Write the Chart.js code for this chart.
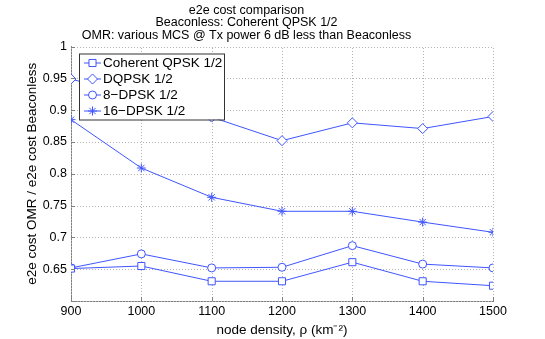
<!DOCTYPE html>
<html>
<head>
<meta charset="utf-8">
<script src="https://cdn.jsdelivr.net/npm/chart.js@4.4.0/dist/chart.umd.min.js"></script>
<style>
    html, body { margin: 0; padding: 0; background: #fff; }
    #wrap { width: 545px; height: 339px; }
</style>
</head>
<body>
<div id="wrap"><canvas id="cost-chart"></canvas></div>
<script>
const density = [900, 1000, 1100, 1200, 1300, 1400, 1500];
const coherentQpsk = [0.651, 0.655, 0.631, 0.631, 0.661, 0.631, 0.624];
const dqpsk = [0.949, 0.918, 0.889, 0.852, 0.880, 0.871, 0.890];
const dpsk8 = [0.652, 0.674, 0.652, 0.653, 0.687, 0.658, 0.652];
const dpsk16 = [0.885, 0.809, 0.763, 0.741, 0.741, 0.724, 0.708];
const seriesNames = ["Coherent QPSK 1/2", "DQPSK 1/2", "8\u2212DPSK 1/2", "16\u2212DPSK 1/2"];
const titleLines = [
    "e2e cost comparison",
    "Beaconless: Coherent QPSK 1/2",
    "OMR: various MCS @ Tx power 6 dB less than Beaconless",
];

const blue = "#3f55ff";
const font = "'Liberation Sans', Arial, Helvetica, sans-serif";

function toPoints(values) {
    return values.map(function (v, i) {
        return { x: density[i], y: v };
    });
}

function makeSet(label, values, style, radius) {
    return {
        label: label,
        data: toPoints(values),
        borderColor: blue,
        borderWidth: 1,
        backgroundColor: "#fff",
        pointStyle: style,
        pointRadius: radius,
        pointBorderWidth: 1,
        pointBackgroundColor: "#fff",
        pointBorderColor: blue,
        tension: 0,
    };
}

// dotted grid + small inward tick marks, matlab style
const matlabGrid = {
    id: "matlabGrid",
    beforeDatasetsDraw: function (chart) {
        const c = chart.ctx;
        const area = chart.chartArea;
        const xs = chart.scales.x, ys = chart.scales.y;
        c.save();
        c.strokeStyle = "#b4b4b4";
        c.lineWidth = 1;
        c.setLineDash([1, 2]);
        c.beginPath();
        xs.ticks.forEach(function (t) {
            const px = Math.round(xs.getPixelForValue(t.value)) + 0.5;
            c.moveTo(px, area.bottom);
            c.lineTo(px, area.top);
        });
        ys.ticks.forEach(function (t) {
            const py = Math.round(ys.getPixelForValue(t.value)) + 0.5;
            c.moveTo(area.left, py);
            c.lineTo(area.right, py);
        });
        c.stroke();
        c.restore();
    },
    afterDraw: function (chart) {
        const c = chart.ctx;
        const area = chart.chartArea;
        const xs = chart.scales.x, ys = chart.scales.y;
        c.save();
        c.strokeStyle = "#808080";
        c.lineWidth = 1;
        c.beginPath();
        xs.ticks.forEach(function (t) {
            const px = Math.round(xs.getPixelForValue(t.value)) + 0.5;
            c.moveTo(px, area.bottom);
            c.lineTo(px, area.bottom - 4);
        });
        ys.ticks.forEach(function (t) {
            const py = Math.round(ys.getPixelForValue(t.value)) + 0.5;
            c.moveTo(area.left, py);
            c.lineTo(area.left + 4, py);
        });
        c.stroke();
        c.restore();
    },
};

// legend box drawn inside the plot, like the matlab one
const boxLegend = {
    id: "boxLegend",
    afterDraw: function (chart) {
        const c = chart.ctx;
        const area = chart.chartArea;
        const x0 = area.left + 8, y0 = area.top + 7;
        const w = 145, h = 66;
        c.save();
        c.fillStyle = "#fff";
        c.fillRect(x0, y0, w, h);
        c.strokeStyle = "#333";
        c.lineWidth = 1;
        c.strokeRect(x0 + 0.5, y0 + 0.5, w, h);
        c.font = "13.5px " + font;
        c.textBaseline = "middle";
        chart.data.datasets.forEach(function (ds, i) {
            const y = y0 + 9.5 + i * 16;
            c.strokeStyle = ds.borderColor;
            c.lineWidth = 1;
            c.beginPath();
            c.moveTo(x0 + 5, y);
            c.lineTo(x0 + 22, y);
            c.stroke();
            c.fillStyle = "#fff";
            Chart.helpers.drawPoint(c, {
                pointStyle: ds.pointStyle,
                radius: ds.pointRadius,
                borderWidth: 1,
                rotation: 0,
            }, x0 + 13.5, y);
            c.fillStyle = "#000";
            c.fillText(ds.label, x0 + 24, y + 0.5);
        });
        c.restore();
    },
};

new Chart(document.getElementById("cost-chart"), {
    type: "line",
    data: {
        datasets: [
            makeSet(seriesNames[0], coherentQpsk, "rect", 5),
            makeSet(seriesNames[1], dqpsk, "rectRot", 5),
            makeSet(seriesNames[2], dpsk8, "circle", 4),
            makeSet(seriesNames[3], dpsk16, "star", 4.5),
        ],
    },
    options: {
        responsive: true,
        maintainAspectRatio: false,
        animation: false,
        layout: { padding: { left: 0, right: 52, top: 0, bottom: 0 } },
        plugins: {
            legend: { display: false },
            tooltip: { enabled: false },
            title: {
                display: true,
                text: titleLines,
                color: "#000",
                font: { family: font, size: 12.5, weight: "normal", lineHeight: 1.0 },
                padding: { top: 4, bottom: 5 },
            },
        },
        scales: {
            x: {
                type: "linear",
                min: 900,
                max: 1500,
                ticks: {
                    stepSize: 100,
                    color: "#000",
                    padding: 3,
                    font: { family: font, size: 12.5 },
                    callback: function (value) { return String(value); },
                },
                grid: { display: false, drawTicks: false },
                border: { display: true, color: "#808080" },
                title: {
                    display: true,
                    text: "node density, \u03c1 (km\u207b\u00b2)",
                    color: "#000",
                    font: { family: font, size: 13.5 },
                    padding: { top: 0, bottom: 1 },
                },
                afterFit: function (scale) { scale.height = 38; },
            },
            y: {
                min: 0.6,
                max: 1,
                ticks: {
                    stepSize: 0.05,
                    color: "#000",
                    padding: 4,
                    font: { family: font, size: 12.5 },
                    callback: function (value) {
                        if (Math.abs(value - 0.6) < 1e-6) return "";
                        return String(Number(value.toFixed(2)));
                    },
                },
                grid: { display: false, drawTicks: false },
                border: { display: true, color: "#808080" },
                title: {
                    display: true,
                    text: "e2e cost OMR / e2e cost Beaconless",
                    color: "#000",
                    font: { family: font, size: 13.5 },
                    padding: { top: 24, bottom: 0 },
                },
                afterFit: function (scale) { scale.width = 71; },
            },
        },
    },
    plugins: [matlabGrid, boxLegend],
});
</script>
</body>
</html>
